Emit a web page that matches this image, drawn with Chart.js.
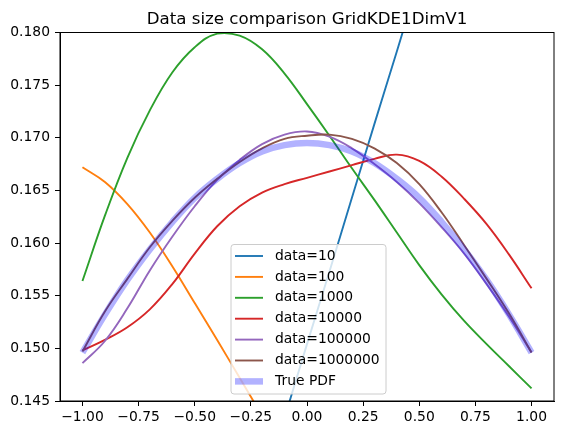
<!DOCTYPE html>
<html>
<head>
<meta charset="utf-8">
<script src="https://cdn.jsdelivr.net/npm/chart.js@4"></script>
<style>
  html, body { margin: 0; padding: 0; background: #fff; }
  #chart { display: block; }
</style>
</head>
<body>
<canvas id="chart" width="565" height="435"></canvas>
<script>
// Data
const xs = [-1.0, -0.9, -0.8, -0.7, -0.6, -0.5, -0.4, -0.3, -0.2, -0.1, 0.0,
            0.1, 0.2, 0.3, 0.4, 0.5, 0.6, 0.7, 0.8, 0.9, 1.0];

const data10 = [0.0807, 0.0877, 0.0946, 0.1016, 0.1086, 0.1155, 0.1225, 0.1295, 0.1364, 0.1434, 0.1504,
                0.1573, 0.1643, 0.1713, 0.1782, 0.1852, 0.1922, 0.1991, 0.2061, 0.2131, 0.2201];
const data100 = [0.1672, 0.1658, 0.1637, 0.1610, 0.1578, 0.1543, 0.1508, 0.1472, 0.1436, 0.1400, 0.1366,
                 0.1334, 0.1305, 0.1279, 0.1256, 0.1237, 0.1221, 0.1209, 0.1200, 0.1194, 0.1191];
const data1000 = [0.1564, 0.1626, 0.1681, 0.1726, 0.1762, 0.1786, 0.1799, 0.1797, 0.1784, 0.1761, 0.1732,
                  0.1702, 0.1671, 0.1641, 0.1610, 0.1579, 0.1551, 0.1526, 0.1504, 0.1483, 0.1462];
const data10000 = [0.1498, 0.1508, 0.1520, 0.1537, 0.1561, 0.1590, 0.1616, 0.1635, 0.1648, 0.1656, 0.1662,
                   0.1668, 0.1674, 0.1680, 0.1684, 0.1678, 0.1663, 0.1642, 0.1618, 0.1589, 0.1557];
const data100000 = [0.1486, 0.1507, 0.1538, 0.1574, 0.1606, 0.1635, 0.1660, 0.1679, 0.1694, 0.1703, 0.1706,
                    0.1701, 0.1690, 0.1675, 0.1658, 0.1638, 0.1615, 0.1590, 0.1561, 0.1530, 0.1496];
const data1000000 = [0.1497, 0.1535, 0.1566, 0.1596, 0.1621, 0.1643, 0.1661, 0.1677, 0.1690, 0.1699, 0.1702,
                     0.1703, 0.1699, 0.1690, 0.1676, 0.1656, 0.1629, 0.1598, 0.1566, 0.1533, 0.1496];
const truePdf = [0.1496, 0.1532, 0.1565, 0.1594, 0.1620, 0.1643, 0.1661, 0.1676, 0.1687, 0.1693, 0.1695,
                 0.1693, 0.1687, 0.1676, 0.1661, 0.1643, 0.1620, 0.1594, 0.1565, 0.1532, 0.1496];

const seriesLabels = ["data=10", "data=100", "data=1000", "data=10000", "data=100000", "data=1000000", "True PDF"];
const xTicks = [-1.0, -0.75, -0.5, -0.25, 0.0, 0.25, 0.5, 0.75, 1.0];
const yTicks = [0.145, 0.150, 0.155, 0.160, 0.165, 0.170, 0.175, 0.180];
const titleText = "Data size comparison GridKDE1DimV1";

// Styles
const colors = ["#1f77b4", "#ff7f0e", "#2ca02c", "#d62728", "#9467bd", "#8c564b", "rgba(0,0,255,0.3)"];
const widths = [1.9, 1.9, 1.9, 1.9, 1.9, 1.9, 6.5];
const FONT = "DejaVu Sans";

const allSeries = [data10, data100, data1000, data10000, data100000, data1000000, truePdf];

const datasets = allSeries.map((ys, i) => ({
  label: seriesLabels[i],
  data: ys.map((y, j) => ({ x: xs[j], y: y })),
  borderColor: colors[i],
  borderWidth: widths[i],
  pointRadius: 0,
  fill: false,
  tension: 0.4,
  borderCapStyle: "butt",
  order: allSeries.length - i // matplotlib draws later lines on top
}));

// Frame, title and legend
const extras = {
  id: "extras",
  afterDraw(chart) {
    const ctx = chart.ctx;
    const a = chart.chartArea;
    ctx.save();
    ctx.strokeStyle = "#000";
    ctx.lineWidth = 1;
    ctx.strokeRect(a.left, a.top, a.right - a.left, a.bottom - a.top);

    ctx.fillStyle = "#000";
    ctx.font = `16.67px "${FONT}"`;
    ctx.textAlign = "center";
    ctx.textBaseline = "alphabetic";
    ctx.fillText(titleText, (a.left + a.right) / 2, 24);

    // legend box
    const bx = 231, by = 244.5, bw = 155, bh = 149.5;
    ctx.beginPath();
    ctx.roundRect(bx, by, bw, bh, 3);
    ctx.fillStyle = "rgba(255,255,255,0.8)";
    ctx.fill();
    ctx.strokeStyle = "#cccccc";
    ctx.stroke();

    ctx.font = `13.89px "${FONT}"`;
    ctx.textAlign = "left";
    ctx.textBaseline = "middle";
    seriesLabels.forEach((lab, i) => {
      const y = 256 + i * 20.9;
      ctx.beginPath();
      ctx.moveTo(235, y);
      ctx.lineTo(263, y);
      ctx.strokeStyle = colors[i];
      ctx.lineWidth = widths[i];
      ctx.stroke();
      ctx.fillStyle = "#000";
      ctx.fillText(lab, 275, y);
    });
    ctx.restore();
  }
};

const fmtX = v => v.toFixed(2).replace("-", "\u2212");

new Chart(document.querySelector("#chart"), {
  type: "line",
  data: { datasets: datasets },
  options: {
    responsive: false,
    animation: false,
    devicePixelRatio: 1,
    layout: { padding: { left: 0, right: 11, top: 32.5, bottom: 0 } },
    plugins: {
      legend: { display: false },
      title: { display: false },
      tooltip: { enabled: false }
    },
    scales: {
      x: {
        type: "linear",
        min: -1.1,
        max: 1.1,
        afterBuildTicks: s => { s.ticks = xTicks.map(v => ({ value: v })); },
        afterFit: s => { s.height = 34; },
        grid: { drawOnChartArea: false, drawTicks: true, tickLength: 5, color: "#000" },
        border: { display: true, color: "#000", width: 1 },
        ticks: {
          padding: 3,
          maxRotation: 0,
          autoSkip: false,
          color: "#000",
          font: { family: FONT, size: 13.89 },
          callback: v => fmtX(v)
        }
      },
      y: {
        type: "linear",
        min: 0.145,
        max: 0.180,
        afterBuildTicks: s => { s.ticks = yTicks.map(v => ({ value: v })); },
        afterFit: s => { s.width = 60; },
        grid: { drawOnChartArea: false, drawTicks: true, tickLength: 5, color: "#000" },
        border: { display: true, color: "#000", width: 1 },
        ticks: {
          padding: 5,
          autoSkip: false,
          color: "#000",
          font: { family: FONT, size: 13.89 },
          callback: v => v.toFixed(3)
        }
      }
    }
  },
  plugins: [extras]
});
</script>
</body>
</html>
